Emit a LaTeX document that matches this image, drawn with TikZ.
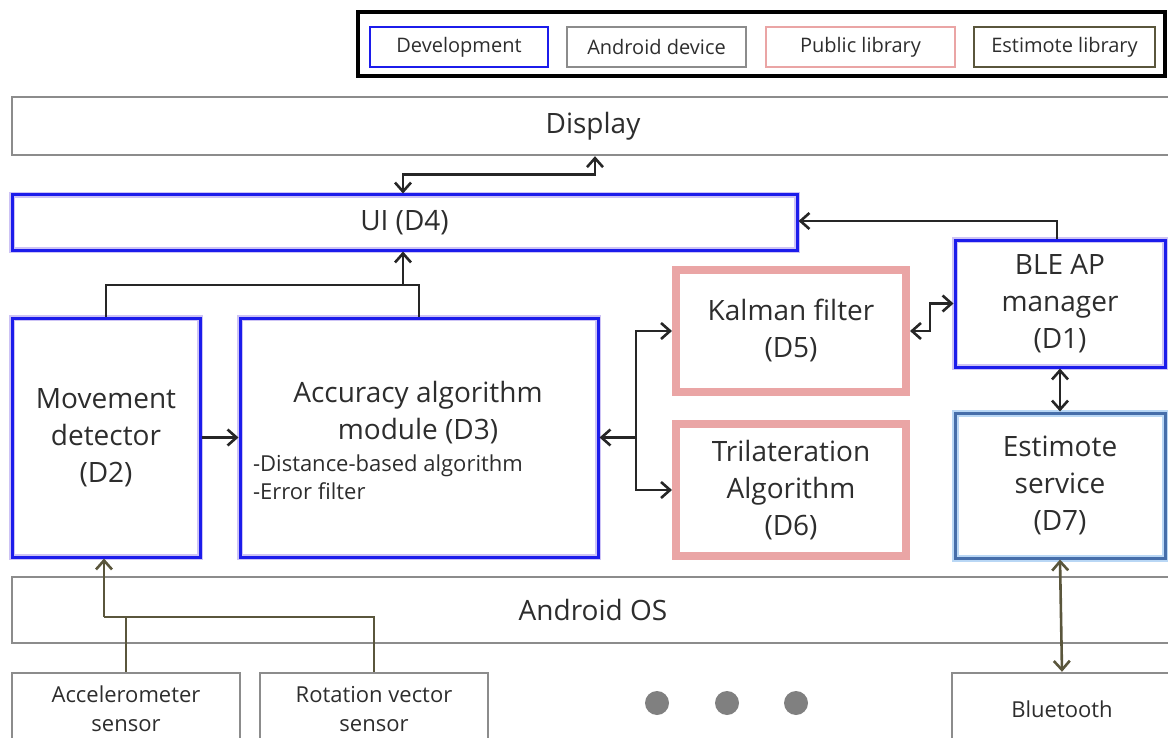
\documentclass[tikz,border=0pt]{standalone}
\usepackage{fontspec}
\setmainfont{Open Sans}
\usetikzlibrary{arrows.meta,positioning,calc}
\definecolor{devBlue}{RGB}{28,28,235}
\definecolor{devHalo}{RGB}{205,195,245}
\definecolor{andGray}{RGB}{140,140,140}
\definecolor{pubPink}{RGB}{234,165,165}
\definecolor{estOlive}{RGB}{90,86,60}
\definecolor{svcBlue}{RGB}{70,110,170}
\definecolor{svcHalo}{RGB}{185,215,245}
\definecolor{txtGray}{RGB}{45,45,45}
\definecolor{dotGray}{RGB}{128,128,128}
\tikzset{
  lbl/.style={align=center, text=txtGray, font=\fontsize{14}{18.5}\selectfont},
  devbox/.style={draw=devBlue, line width=1.5pt, preaction={draw=devHalo, line width=3pt}, lbl},
  andbox/.style={draw=andGray, line width=1.2pt, lbl},
  pubbox/.style={draw=pubPink, line width=4pt, lbl},
  svcbox/.style={draw=svcBlue, line width=1.5pt, preaction={draw=svcHalo, line width=3.5pt}, lbl},
  sensbox/.style={andbox, font=\fontsize{11}{14.5}\selectfont},
  legitem/.style={line width=1pt, minimum height=20pt, text=txtGray, font=\fontsize{10}{12}\selectfont},
  bul/.style={align=left, text=txtGray, font=\fontsize{11}{14}\selectfont},
  arrow/.style={-{Straight Barb[length=4.5pt,width=8pt]}, line width=1.3pt, black!85},
  biarrow/.style={{Straight Barb[length=4.5pt,width=8pt]}-{Straight Barb[length=4.5pt,width=8pt]}, line width=1.3pt, black!85},
  oline/.style={line width=1.3pt, estOlive},
  oarrow/.style={oline, -{Straight Barb[length=4.5pt,width=8pt]}},
  obiarrow/.style={oline, {Straight Barb[length=4.5pt,width=8pt]}-{Straight Barb[length=4.5pt,width=8pt]}},
  dot/.style={circle, fill=dotGray, minimum size=12pt, inner sep=0pt}
}

\begin{document}
\begin{tikzpicture}[x=0.5pt, y=-0.5pt]
  \useasboundingbox (0,0) rectangle (1168,738);
  \clip (0,0) rectangle (1168,738);

  % legend
  \node[draw=black, line width=1.6pt, minimum width=403.5pt, minimum height=32pt] (legend) at (761.5,44) {};
  \node[legitem, draw=devBlue, minimum width=89pt] (legdev) at (459,47) {Development};
  \node[legitem, draw=andGray, minimum width=89.5pt] (legand) at (656.5,47) {Android device};
  \node[legitem, draw=pubPink, minimum width=94.5pt] (legpub) at (860.5,47) {Public library};
  \node[legitem, draw=estOlive, minimum width=90.5pt] (legest) at (1064.5,47) {Estimote library};

  % layers
  \node[andbox, minimum width=581pt, minimum height=29pt] (disp) at (593,126) {Display};
  \node[andbox, minimum width=581pt, minimum height=33pt] (aos) at (593,610) {Android OS};

  % modules
  \node[devbox, minimum width=392.5pt, minimum height=27.5pt] (ui) at (404.5,222.5) {UI (D4)};
  \node[devbox, minimum width=94pt, minimum height=119.5pt] (d2) at (106,437.5) {Movement\\detector\\(D2)};
  \node[devbox, minimum width=179pt, minimum height=119.5pt] (d3) at (419,437.5) {};
  \node[lbl] (d3title) at (418,413) {Accuracy algorithm\\module (D3)};
  \node[bul, anchor=west] (d3list) at (246,477) {-Distance-based algorithm\\-Error filter};
  \node[pubbox, minimum width=115pt, minimum height=61pt] (d5) at (791,331) {Kalman filter\\(D5)};
  \node[pubbox, minimum width=115pt, minimum height=66pt] (d6) at (791,490) {Trilateration\\Algorithm\\(D6)};
  \node[devbox, minimum width=105pt, minimum height=63.5pt] (d1) at (1060,303.5) {BLE AP\\manager\\(D1)};
  \node[svcbox, minimum width=105pt, minimum height=72.5pt] (d7) at (1060,485.5) {Estimote\\service\\(D7)};

  % devices
  \node[sensbox, minimum width=114pt, minimum height=36pt] (acc) at (126,709) {Accelerometer\\sensor};
  \node[sensbox, minimum width=114pt, minimum height=36pt] (rot) at (374,709) {Rotation vector\\sensor};
  \node[sensbox, minimum width=110pt, minimum height=36pt] (bt) at (1062,709) {Bluetooth};
  \foreach \x [count=\i] in {657,727,796}
    \node[dot] (dot\i) at (\x,703) {};

  % connectors
  \coordinate (merge) at (403,285);
  \coordinate (fork) at (636,437.5);
  \coordinate (sensjoin) at (104,617);
  \draw[biarrow] ([xshift=-0.75pt]ui.north) -- ++(0,-19) -| ([xshift=1pt]disp.south);
  \draw[arrow] ([xshift=-1.5pt]d1.north) |- ([yshift=0.75pt]ui.east);
  \draw[line width=1.3pt, black!85] (d2.north) |- (merge) -| (d3.north);
  \draw[arrow] (merge) -- (merge |- ui.south);
  \draw[arrow] (d2.east) -- (d3.west);
  \draw[arrow] (fork) -- (d3.east);
  \draw[arrow] (fork) |- (d5.west);
  \draw[arrow] (fork) |- (d6.west);
  \draw[biarrow] (d5.east) -- ++(20,0) |- (d1.west);
  \draw[biarrow] (d1.south) -- (d7.north);
  \draw[obiarrow] (d7.south) -- (bt.north);
  \draw[oline] (acc.north) |- (sensjoin);
  \draw[oline] (rot.north) |- (sensjoin);
  \draw[oarrow] (sensjoin) -- (sensjoin |- d2.south);
\end{tikzpicture}
\end{document}
